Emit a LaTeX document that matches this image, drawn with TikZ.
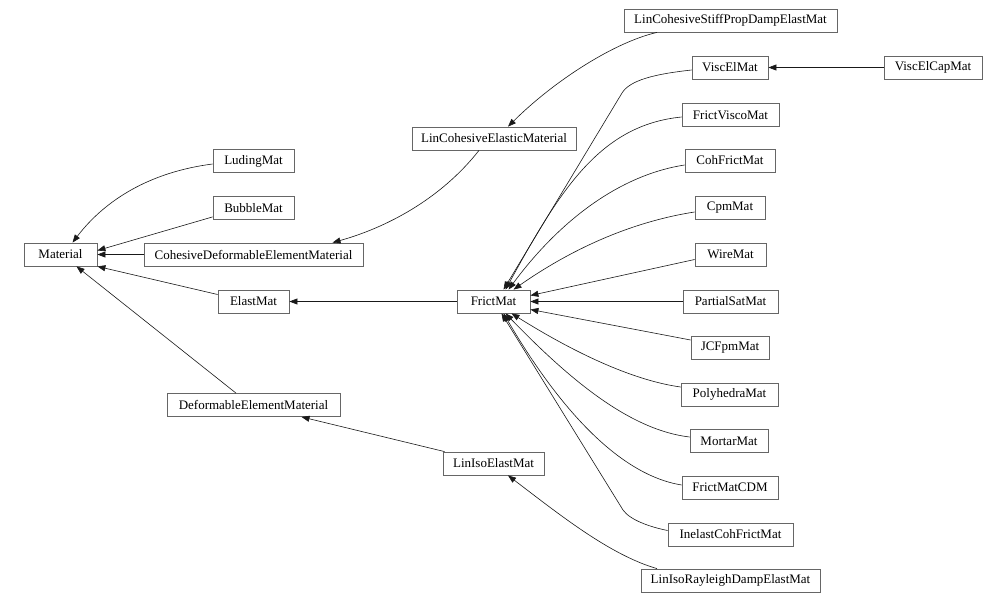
\documentclass[tikz,border=0pt]{standalone}
\usepackage{fontspec}
\setmainfont{Liberation Serif}
\usetikzlibrary{arrows.meta}
\begin{document}
\begin{tikzpicture}[x=1pt,y=-1pt,
  box/.style={draw=black!60,line width=0.8pt,minimum height=23pt,inner sep=0pt,fill=white,font=\fontsize{13}{15}\selectfont},
  edge/.style={draw=black!90,line width=0.6pt,-{Triangle[length=8pt,width=6pt]}}]
\useasboundingbox[fill=white] (0,0) rectangle (1006,603);
% nodes
\node[box,minimum width=73pt] (material) at (60.5,254.5) {Material};
\node[box,minimum width=81pt] (luding) at (253.5,161) {LudingMat};
\node[box,minimum width=81pt] (bubble) at (253.5,208) {BubbleMat};
\node[box,minimum width=219pt] (cohdem) at (253.5,254.5) {CohesiveDeformableElementMaterial};
\node[box,minimum width=71pt] (elast) at (253.5,301.5) {ElastMat};
\node[box,minimum width=173pt] (dem) at (253.5,405) {DeformableElementMaterial};
\node[box,minimum width=101pt] (liniso) at (493.5,463.5) {LinIsoElastMat};
\node[box,minimum width=164pt] (lincoh) at (494,138.5) {LinCohesiveElasticMaterial};
\node[box,minimum width=73pt] (frict) at (493.5,301.5) {FrictMat};
\node[box,minimum width=213pt] (stiff) at (730.5,20.5) {LinCohesiveStiffPropDampElastMat};
\node[box,minimum width=76pt] (viscel) at (730,67.5) {ViscElMat};
\node[box,minimum width=98pt] (viscelcap) at (933,67.5) {ViscElCapMat};
\node[box,minimum width=97pt] (visco) at (730.5,115) {FrictViscoMat};
\node[box,minimum width=90pt] (cohfrict) at (730,160.5) {CohFrictMat};
\node[box,minimum width=70pt] (cpm) at (730,207.5) {CpmMat};
\node[box,minimum width=71pt] (wire) at (730.5,254.5) {WireMat};
\node[box,minimum width=95pt] (partial) at (730.5,301.5) {PartialSatMat};
\node[box,minimum width=78pt] (jcfpm) at (730,348) {JCFpmMat};
\node[box,minimum width=97pt] (poly) at (729.5,394.5) {PolyhedraMat};
\node[box,minimum width=78pt] (mortar) at (729,441) {MortarMat};
\node[box,minimum width=96pt] (cdm) at (730,487.5) {FrictMatCDM};
\node[box,minimum width=125pt] (inelast) at (730.5,534.5) {InelastCohFrictMat};
\node[box,minimum width=179pt] (rayleigh) at (730.5,580.5) {LinIsoRayleighDampElastMat};
% edges to Material
\draw[edge] ([yshift=-3pt]luding.west) .. controls (150,172) and (105,200) .. ([xshift=12pt]material.north);
\draw[edge] ([yshift=3pt]bubble.south west) -- ([yshift=4pt]material.east);
\draw[edge] (cohdem.west) -- (material.east);
\draw[edge] ([yshift=7pt]elast.west) -- (material.south east);
\draw[edge] ([xshift=-17.5pt]dem.north) -- ([xshift=16pt]material.south);
\draw[edge] ([xshift=2pt]liniso.north west) -- ([xshift=48pt]dem.south);
\draw[edge] (frict.west) -- (elast.east);
\draw[edge] ([xshift=-15pt]lincoh.south) .. controls (440,200) and (385,228) .. ([xshift=79pt]cohdem.north);
\draw[edge] ([xshift=-73.5pt]stiff.south) .. controls (615,42) and (555,80) .. ([xshift=14pt]lincoh.north);
\draw[edge] (viscelcap.west) -- (viscel.east);
% edges to FrictMat
\draw[edge] ([yshift=-2.5pt]viscel.west) .. controls (655,74) and (630,80) .. (622,93) -- ([xshift=10pt]frict.north);
\draw[edge] ([yshift=-2pt]visco.west) .. controls (600,125) and (560,190) .. ([xshift=12pt]frict.north);
\draw[edge] ([yshift=-4.5pt]cohfrict.west) .. controls (620,175) and (560,220) .. ([xshift=15pt]frict.north);
\draw[edge] ([yshift=-4.5pt]cpm.west) .. controls (630,222) and (570,250) .. ([xshift=20pt]frict.north);
\draw[edge] ([yshift=-5pt]wire.west) -- ([yshift=6pt]frict.east);
\draw[edge] (partial.west) -- (frict.east);
\draw[edge] ([yshift=8pt]jcfpm.west) -- ([yshift=-8pt]frict.east);
\draw[edge] ([yshift=7.5pt]poly.west) .. controls (630,380) and (570,350) .. ([xshift=18pt]frict.south);
\draw[edge] ([yshift=4pt]mortar.west) .. controls (630,430) and (570,380) .. ([xshift=12pt]frict.south);
\draw[edge] ([yshift=2.5pt]cdm.west) .. controls (620,475) and (560,410) .. ([xshift=10pt]frict.south);
\draw[edge] ([yshift=4pt]inelast.west) .. controls (650,527) and (630,520) .. (623,510) -- ([xshift=8pt]frict.south);
\draw[edge] ([xshift=-73.5pt]rayleigh.north) .. controls (610,555) and (560,515) .. ([xshift=14.5pt]liniso.south);
\end{tikzpicture}
\end{document}
